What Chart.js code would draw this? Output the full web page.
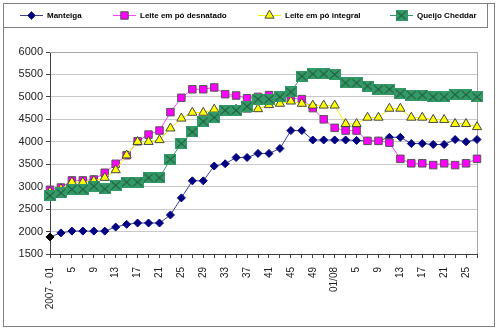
<!DOCTYPE html>
<html>
<head>
<meta charset="utf-8">
<script src="https://cdn.jsdelivr.net/npm/chart.js"></script>
<style>
  html, body { margin: 0; padding: 0; background: #fff; }
  #wrap { width: 498px; height: 329px; position: relative; }
</style>
</head>
<body>
<div id="wrap"><canvas id="dairy-chart"></canvas></div>
<script>
// weeks, every second one (2007 wk 1 .. 2008 wk 27)
const weekLabels = [
  '2007 - 01', '3', '5', '7', '9', '11', '13', '15', '17', '19', '21', '23', '25',
  '27', '29', '31', '33', '35', '37', '39', '41', '43', '45', '47', '49', '51',
  '01/08', '3', '5', '7', '9', '11', '13', '15', '17', '19', '21', '23', '25', '27'
];

const seriesNames = ['Manteiga', 'Leite em pó desnatado', 'Leite em pó integral', 'Queijo Cheddar'];

const manteiga = [
  1880, 1970, 2010, 2010, 2010, 2010, 2100, 2160, 2190, 2190, 2190, 2370, 2750,
  3130, 3130, 3460, 3510, 3650, 3650, 3740, 3740, 3850, 4250, 4250, 4040, 4040,
  4040, 4040, 4030, 4020, 4020, 4100, 4100, 3960, 3960, 3940, 3940, 4050, 4000, 4050
];
const leiteDesnatado = [
  2930, 2980, 3140, 3140, 3160, 3310, 3510, 3700, 4010, 4160, 4250, 4660, 4980,
  5170, 5170, 5210, 5060, 5030, 4970, 5000, 5040, 5000, 4970, 4950, 4750, 4500,
  4310, 4250, 4250, 4020, 4020, 3980, 3620, 3520, 3520, 3480, 3520, 3480, 3520, 3620
];
const leiteIntegral = [
  2880, 2950, 3100, 3100, 3130, 3200, 3370, 3700, 4000, 4000, 4040, 4300, 4520,
  4650, 4650, 4720, 4700, 4720, 4720, 4730, 4820, 4850, 4900, 4850, 4810, 4810,
  4810, 4400, 4400, 4540, 4540, 4740, 4740, 4540, 4540, 4490, 4490, 4400, 4400, 4330
];
const queijoCheddar = [
  2800, 2860, 2940, 2940, 3010, 2950, 3030, 3100, 3100, 3200, 3200, 3610, 3960,
  4220, 4450, 4540, 4700, 4700, 4790, 4950, 4950, 5000, 5110, 5460, 5510, 5510,
  5500, 5310, 5310, 5240, 5170, 5170, 5070, 5040, 5040, 5000, 5000, 5050, 5050, 5000
];

const yMin = 1500;
const yMax = 6000;
const yStep = 500;

// green square with an X, like the excel marker
function cheddarMarker() {
  const c = document.createElement('canvas');
  c.width = 12;
  c.height = 11;
  const g = c.getContext('2d');
  g.fillStyle = '#339966';
  g.fillRect(0, 0, 12, 11);
  g.strokeStyle = '#1c4430';
  g.lineWidth = 1;
  g.beginPath();
  g.moveTo(1.5, 1.5); g.lineTo(10.5, 9.5);
  g.moveTo(10.5, 1.5); g.lineTo(1.5, 9.5);
  g.stroke();
  return c;
}

const legendX = [20, 113, 258, 390];

const frameAndLegend = {
  id: 'frameAndLegend',
  beforeDatasetsDraw(chart) {
    const { ctx, chartArea: a } = chart;
    ctx.save();
    ctx.strokeStyle = '#a8a8a8';
    ctx.lineWidth = 1;
    ctx.beginPath();
    ctx.moveTo(a.left, a.top + 0.5);
    ctx.lineTo(Math.round(a.right) + 0.5, a.top + 0.5);
    ctx.lineTo(Math.round(a.right) + 0.5, a.bottom);
    ctx.stroke();
    ctx.restore();
  },
  afterDraw(chart) {
    const ctx = chart.ctx;
    ctx.save();
    ctx.strokeStyle = '#808080';
    ctx.lineWidth = 1;
    ctx.strokeRect(3.5, 3.5, 491, 323);
    ctx.strokeRect(3.5, 3.5, 484, 24);

    ctx.font = 'bold 8px "Liberation Sans", Arial, sans-serif';
    ctx.textBaseline = 'middle';
    chart.data.datasets.forEach((ds, i) => {
      const x = legendX[i];
      const y = 15.5;
      ctx.strokeStyle = ds.borderColor;
      ctx.lineWidth = 1;
      ctx.beginPath();
      ctx.moveTo(x, y);
      ctx.lineTo(x + 23, y);
      ctx.stroke();
      ctx.fillStyle = ds.legendFill;
      ctx.strokeStyle = ds.pointBorderColor;
      ctx.lineWidth = ds.pointBorderWidth;
      Chart.helpers.drawPoint(ctx, {
        pointStyle: ds.pointStyle,
        radius: ds.pointRadius,
        borderWidth: ds.pointBorderWidth,
        rotation: 0
      }, x + 11.5, y);
      ctx.fillStyle = '#000';
      ctx.fillText(ds.label, x + 27, y + 0.5);
    });
    ctx.restore();
  }
};

const ctx = document.getElementById('dairy-chart').getContext('2d');
new Chart(ctx, {
  type: 'line',
  data: {
    labels: weekLabels,
    datasets: [
      {
        label: seriesNames[0],
        data: manteiga,
        borderColor: '#3c3c9c',
        borderWidth: 1,
        pointStyle: 'rectRot',
        pointRadius: 4,
        pointBorderWidth: 1,
        pointBackgroundColor: (c) => c.dataIndex === 0 ? '#000000' : '#000080',
        pointBorderColor: (c) => c.dataIndex === 0 ? '#000000' : '#000080',
        legendFill: '#000080',
        tension: 0,
        order: 4
      },
      {
        label: seriesNames[1],
        data: leiteDesnatado,
        borderColor: '#ff40ff',
        borderWidth: 1,
        pointStyle: 'rect',
        pointRadius: 5.3,
        pointBorderWidth: 1,
        pointBackgroundColor: '#ff00ff',
        pointBorderColor: '#555555',
        legendFill: '#ff00ff',
        tension: 0,
        order: 3
      },
      {
        label: seriesNames[2],
        data: leiteIntegral,
        borderColor: '#f0f000',
        borderWidth: 1,
        pointStyle: 'triangle',
        pointRadius: 5.3,
        pointBorderWidth: 1,
        pointBackgroundColor: '#ffff00',
        pointBorderColor: '#444444',
        legendFill: '#ffff00',
        tension: 0,
        order: 2
      },
      {
        label: seriesNames[3],
        data: queijoCheddar,
        borderColor: '#339966',
        borderWidth: 1,
        pointStyle: cheddarMarker(),
        pointRadius: 6,
        pointBorderWidth: 0,
        pointBackgroundColor: '#339966',
        pointBorderColor: '#339966',
        legendFill: '#339966',
        tension: 0,
        order: 1
      }
    ]
  },
  options: {
    responsive: true,
    maintainAspectRatio: false,
    animation: false,
    layout: { padding: { top: 52, right: 21, left: 0, bottom: 0 } },
    plugins: {
      legend: { display: false },
      tooltip: { enabled: false }
    },
    scales: {
      x: {
        offset: false,
        grid: { drawOnChartArea: false, tickLength: 4, color: '#404040' },
        border: { color: '#404040' },
        ticks: {
          autoSkip: false,
          maxRotation: 90,
          minRotation: 90,
          padding: 9,
          color: '#222',
          font: { family: '"Liberation Sans", Arial, sans-serif', size: 10 },
          callback: (v, i) => i % 2 === 0 ? weekLabels[i] : ''
        },
        afterFit: (s) => { s.height = 75; }
      },
      y: {
        min: yMin,
        max: yMax,
        ticks: {
          stepSize: yStep,
          padding: 3,
          color: '#222',
          font: { family: '"Liberation Sans", Arial, sans-serif', size: 11 },
          callback: (v) => String(v)
        },
        grid: { color: '#c8c8c8', tickColor: '#404040', tickLength: 4 },
        border: { color: '#404040' },
        afterFit: (s) => { s.width = 50; }
      }
    }
  },
  plugins: [frameAndLegend]
});
</script>
</body>
</html>
